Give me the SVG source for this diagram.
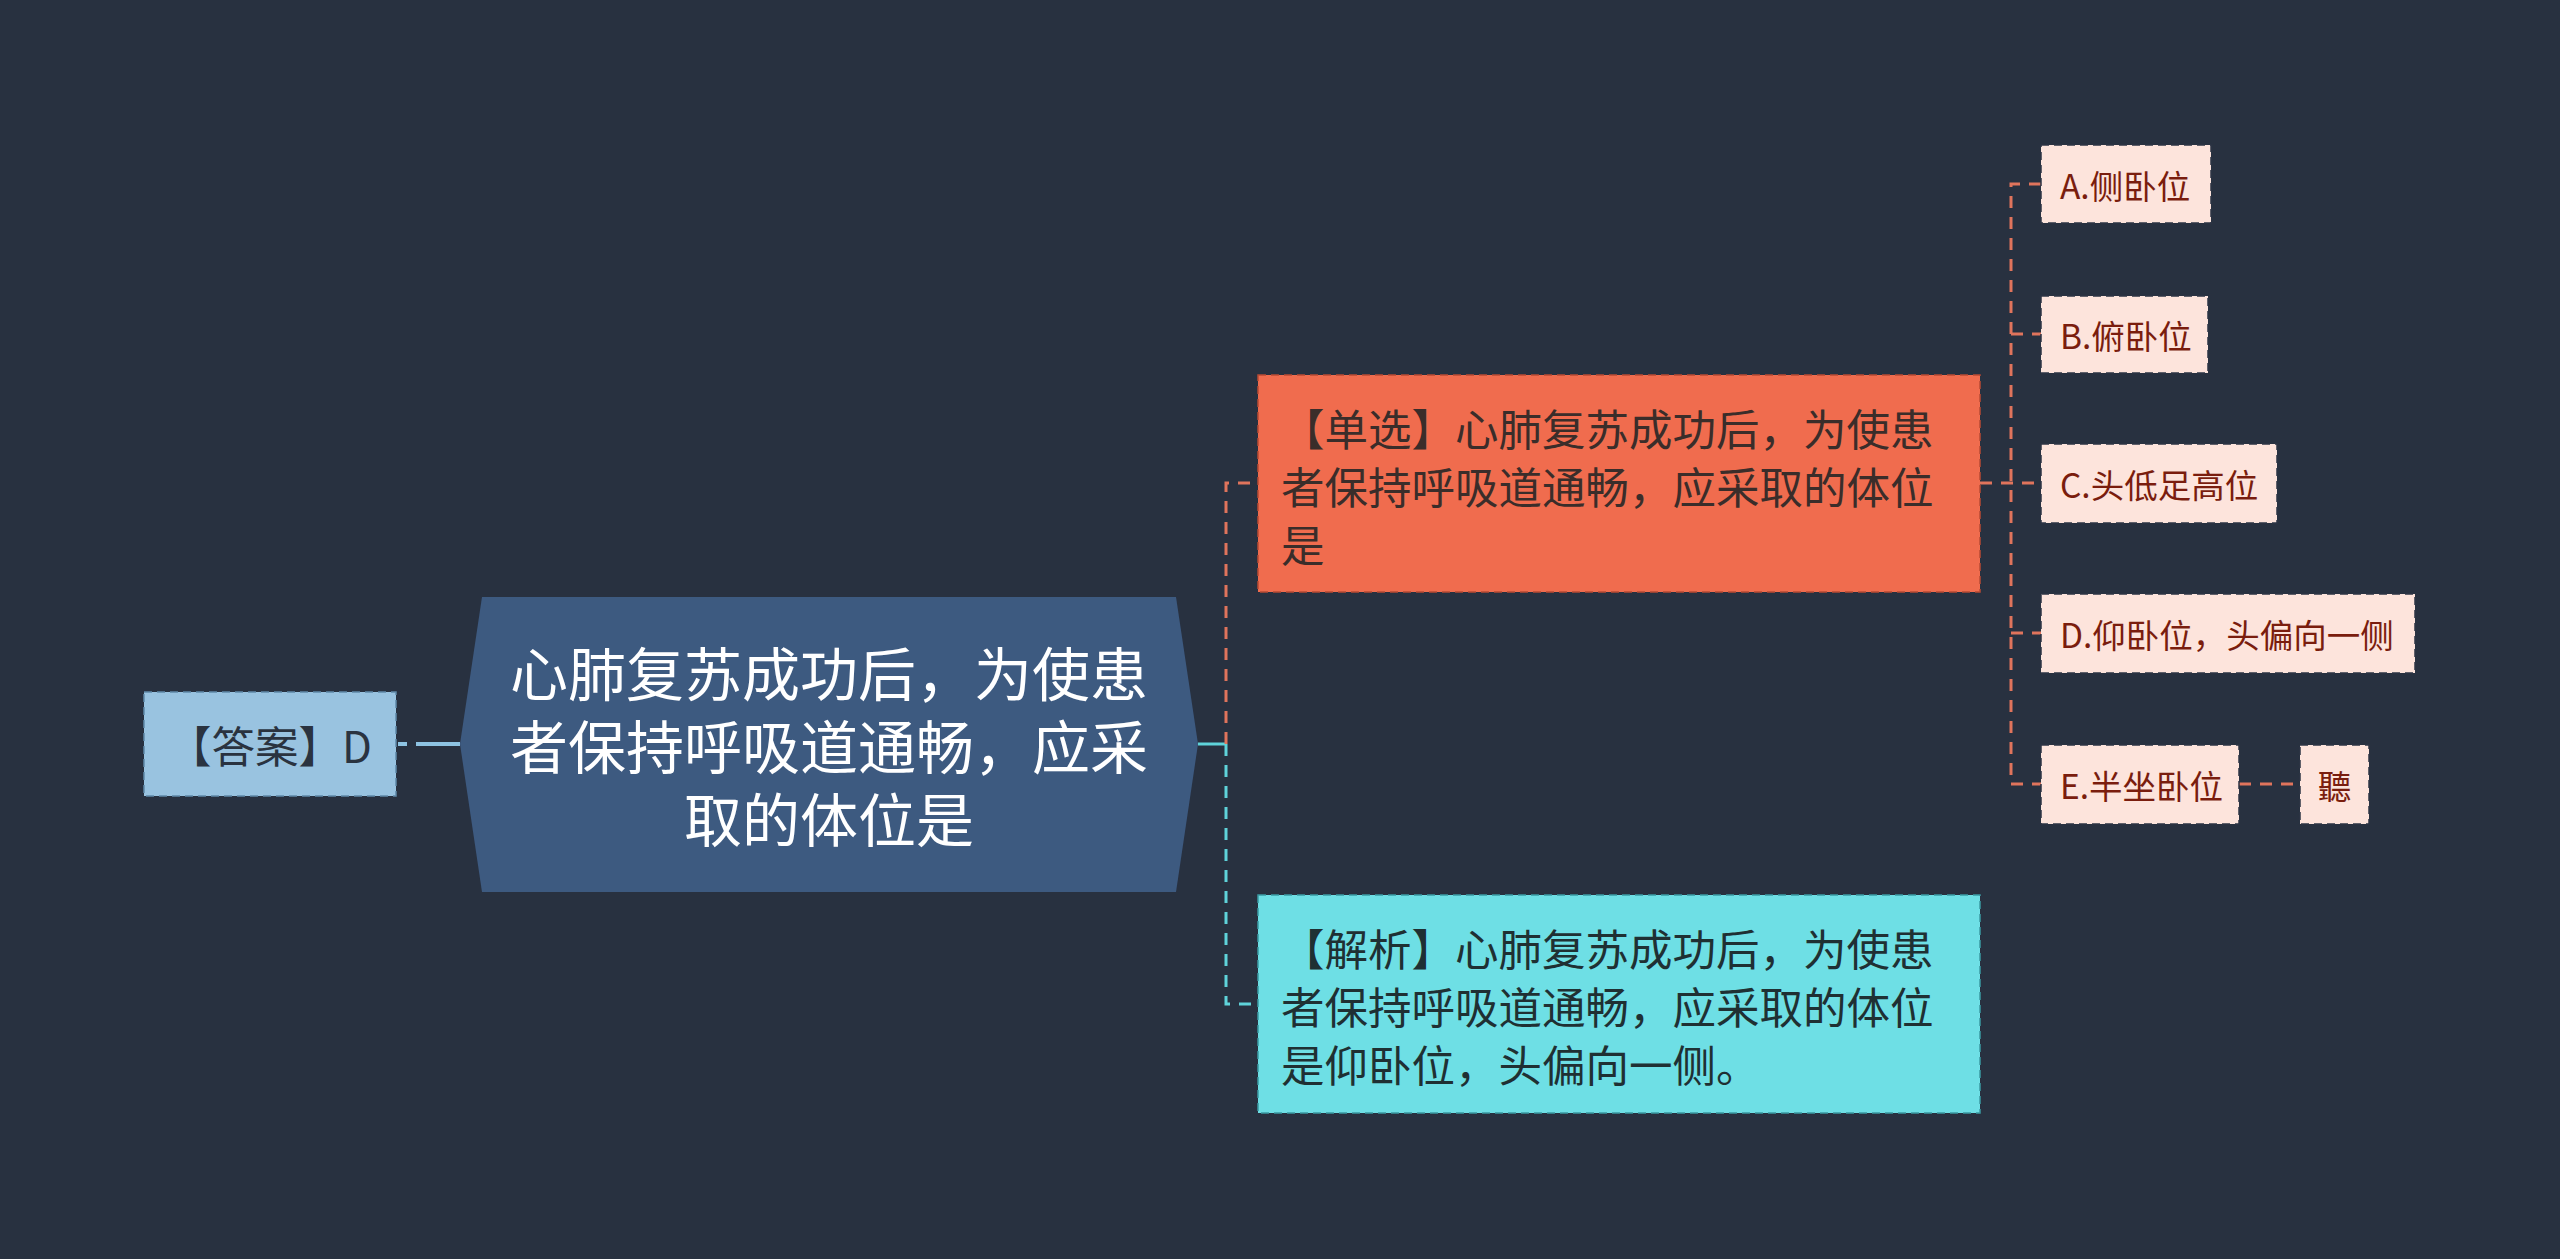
<svg xmlns="http://www.w3.org/2000/svg" width="2560" height="1259" viewBox="0 0 2560 1259">
<style>
text{font-family:"Noto Sans CJK SC","Noto Sans",sans-serif;dominant-baseline:central}
.opt rect{fill:#fde4dc;stroke:#2c3444;stroke-width:1.5;stroke-dasharray:8 5}
.opt text{font-size:33.5px;fill:#7a1d0e}
.conn path{fill:none;stroke-width:3}
.o{stroke:#e0745c;stroke-dasharray:12 9}
.c{stroke:#5fd3da;stroke-dasharray:12 9}
</style>
<rect width="2560" height="1259" fill="#283140"/>
<g id="connectors" class="conn">
<path d="M398 744H407M416 744H460" stroke="#8ec3e2" style="stroke-width:4"/>
<path d="M1198 744H1226" stroke="#5fd3da"/>
<path class="o" d="M1226 744V483H1257"/>
<path class="c" d="M1226 744V1004H1257"/>
<path class="o" d="M1980 483H2041"/>
<path class="o" d="M2041 184H2011V784H2041"/>
<path class="o" d="M2011 334H2041M2011 633H2041"/>
<path class="o" d="M2239 784H2300"/>
</g>
<g id="answer">
<rect x="144" y="692" width="252" height="104" fill="#99c3e0" stroke="#5f89a8" stroke-width="1.5" stroke-dasharray="8 5"/>
<text x="270" y="744" font-size="43.5" fill="#2a3340" text-anchor="middle">【答案】D</text>
</g>
<g id="root">
<polygon points="482,597 1176,597 1198,744 1176,892 482,892 460,744" fill="#3d5a80"/>
<text font-size="58" fill="#ffffff" text-anchor="middle"><tspan x="829" y="671">心肺复苏成功后，为使患</tspan><tspan x="829" y="744">者保持呼吸道通畅，应采</tspan><tspan x="829" y="817">取的体位是</tspan></text>
</g>
<g id="question">
<rect x="1258" y="375" width="722" height="217" fill="#f06c4e" stroke="#b84a33" stroke-width="1.5" stroke-dasharray="8 5"/>
<text font-size="43.5" fill="#3a2d2a"><tspan x="1281" y="427">【单选】心肺复苏成功后，为使患</tspan><tspan x="1281" y="485">者保持呼吸道通畅，应采取的体位</tspan><tspan x="1281" y="543">是</tspan></text>
</g>
<g id="analysis">
<rect x="1258" y="895" width="722" height="218" fill="#6edfe5" stroke="#3a9aa2" stroke-width="1.5" stroke-dasharray="8 5"/>
<text font-size="43.5" fill="#1f3033"><tspan x="1281" y="947">【解析】心肺复苏成功后，为使患</tspan><tspan x="1281" y="1005">者保持呼吸道通畅，应采取的体位</tspan><tspan x="1281" y="1063">是仰卧位，头偏向一侧。</tspan></text>
</g>
<g id="optA" class="opt"><rect x="2041" y="145" width="170" height="78"/><text x="2060" y="184">A.侧卧位</text></g>
<g id="optB" class="opt"><rect x="2041" y="296" width="167" height="77"/><text x="2060" y="334">B.俯卧位</text></g>
<g id="optC" class="opt"><rect x="2041" y="444" width="236" height="79"/><text x="2060" y="483">C.头低足高位</text></g>
<g id="optD" class="opt"><rect x="2041" y="594" width="374" height="79"/><text x="2060" y="633">D.仰卧位，头偏向一侧</text></g>
<g id="optE" class="opt"><rect x="2041" y="745" width="198" height="79"/><text x="2060" y="784">E.半坐卧位</text></g>
<g id="optE1" class="opt"><rect x="2300" y="745" width="69" height="79"/><text x="2334.5" y="784" text-anchor="middle">聽</text></g>
</svg>
